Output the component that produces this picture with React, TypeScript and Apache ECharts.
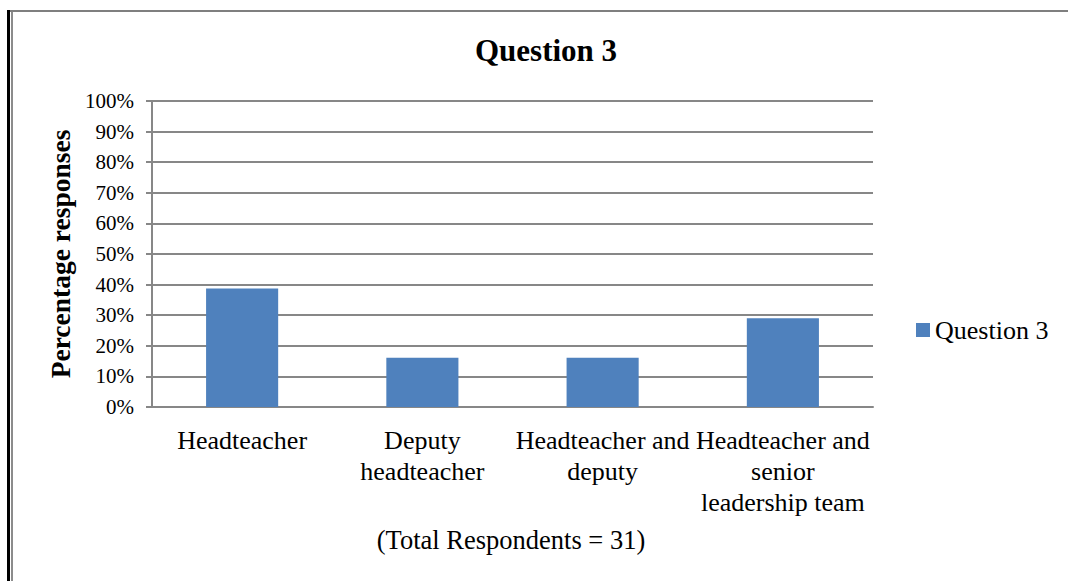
import React, { useEffect, useRef } from "react";
import * as echarts from "echarts";

const categories = [
  "Headteacher",
  "Deputy headteacher",
  "Headteacher and deputy",
  "Headteacher and senior leadership team",
];
const categoryLabels = [
  "Headteacher",
  "Deputy\nheadteacher",
  "Headteacher and\ndeputy",
  "Headteacher and\nsenior\nleadership team",
];
const seriesName = "Question 3";
const values = [38.7, 16.1, 16.1, 29.0];
const titleText = "Question 3";
const yAxisName = "Percentage responses";
const footnote = "(Total Respondents = 31)";

const FONT = "'Liberation Serif', 'Times New Roman', serif";
const GRID_COLOR = "#878787";
const BAR_COLOR = "#4F81BD";

export default function App() {
  const ref = useRef<HTMLDivElement>(null);
  useEffect(() => {
    if (!ref.current) return;
    const chart = echarts.init(ref.current, null, { renderer: "svg" });
    chart.setOption({
      animation: false,
      backgroundColor: "#ffffff",
      textStyle: { fontFamily: FONT, color: "#000" },
      grid: { left: 152, top: 101, right: 195, bottom: 174, containLabel: false },
      legend: {
        data: [seriesName],
        left: 911,
        top: 312,
        itemWidth: 14,
        itemHeight: 14,
        icon: "rect",
        textStyle: { fontFamily: FONT, fontSize: 26, color: "#000" },
      },
      xAxis: {
        type: "category",
        data: categories,
        axisLine: { show: true, lineStyle: { color: GRID_COLOR, width: 2 } },
        axisTick: { show: false },
        axisLabel: {
          interval: 0,
          hideOverlap: false,
          margin: 18,
          fontFamily: FONT,
          fontSize: 26,
          lineHeight: 31,
          color: "#000",
          formatter: (v: string) => categoryLabels[categories.indexOf(v)] ?? v,
        },
      },
      yAxis: {
        type: "value",
        min: 0,
        max: 100,
        interval: 10,
        name: yAxisName,
        nameLocation: "middle",
        nameGap: 75,
        nameTextStyle: { fontFamily: FONT, fontSize: 27.5, fontWeight: "bold", color: "#000" },
        axisLine: { show: true, lineStyle: { color: GRID_COLOR, width: 2 } },
        axisTick: { show: true, length: 6, lineStyle: { color: GRID_COLOR, width: 2 } },
        axisLabel: {
          formatter: "{value}%",
          margin: 18,
          fontFamily: FONT,
          fontSize: 21,
          color: "#000",
        },
        splitLine: { show: true, lineStyle: { color: GRID_COLOR, width: 2 } },
      },
      series: [
        {
          name: seriesName,
          type: "bar",
          data: values,
          barWidth: "40%",
          itemStyle: { color: BAR_COLOR },
        },
      ],
      graphic: [
        {
          type: "text",
          x: 546,
          y: 50,
          style: {
            text: titleText,
            fontFamily: FONT,
            fontSize: 31,
            fontWeight: "bold",
            fill: "#000",
            align: "center",
            verticalAlign: "middle",
          },
        },
        {
          type: "text",
          x: 511,
          y: 540,
          style: {
            text: footnote,
            fontFamily: FONT,
            fontSize: 26.5,
            fill: "#000",
            align: "center",
            verticalAlign: "middle",
          },
        },
        {
          type: "rect",
          shape: { x: 8, y: 10, width: 1060, height: 2 },
          style: { fill: "#7f7f7f" },
        },
        {
          type: "rect",
          shape: { x: 7, y: 10, width: 3, height: 571 },
          style: { fill: "#000" },
        },
        {
          type: "rect",
          shape: { x: 11, y: 12, width: 2, height: 569 },
          style: { fill: "#8c8c8c" },
        },
      ],
    });
    return () => chart.dispose();
  }, []);
  return (
    <div
      ref={ref}
      style={{ position: "fixed", left: 0, top: 0, width: 1068, height: 581 }}
    />
  );
}
